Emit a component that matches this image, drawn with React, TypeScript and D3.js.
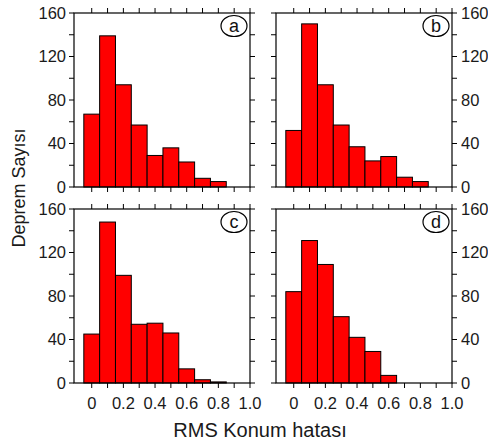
import React, { useRef, useEffect } from "react";
import * as d3 from "d3";

// bin centres of the RMS error histogram
const binCenters = [0, 0.1, 0.2, 0.3, 0.4, 0.5, 0.6, 0.7, 0.8, 0.9];
const countsA = [67, 139, 94, 57, 29, 36, 23, 8, 5, 0];
const countsB = [52, 150, 94, 57, 37, 24, 28, 9, 5, 0];
const countsC = [45, 148, 99, 54, 55, 46, 13, 3, 1, 0];
const countsD = [84, 131, 109, 61, 42, 29, 7, 0, 0, 0];
const panelLetters = ["a", "b", "c", "d"];
const xTickLabels = [0, 0.2, 0.4, 0.6, 0.8, 1.0];
const yTickLabels = [0, 40, 80, 120, 160];

const FONT = "Liberation Sans, Arial, sans-serif";

export default function App() {
  const ref = useRef<SVGSVGElement>(null);

  useEffect(() => {
    const svg = d3.select(ref.current);
    svg.selectAll("*").remove();

    const pw = 176;
    const ph = 174;
    const panels = [
      { values: countsA, left: 74, top: 13, side: "left", bottomLabels: false },
      { values: countsB, left: 276, top: 13, side: "right", bottomLabels: false },
      { values: countsC, left: 74, top: 209, side: "left", bottomLabels: true },
      { values: countsD, left: 276, top: 209, side: "right", bottomLabels: true },
    ];

    const x = d3.scaleLinear().domain([-0.112, 1.0]).range([0, pw]);
    const y = d3.scaleLinear().domain([0, 160]).range([ph, 0]);
    const minorX = d3.range(0, 1.0001, 0.1);
    const minorY = d3.range(0, 160.1, 20);

    panels.forEach((p, i) => {
      const g = svg.append("g").attr("transform", `translate(${p.left},${p.top})`);

      g.selectAll("rect.bar")
        .data(binCenters.map((c, j) => ({ c, v: p.values[j] })).filter((d) => d.v > 0))
        .enter()
        .append("rect")
        .attr("class", "bar")
        .attr("x", (d) => x(d.c - 0.05))
        .attr("width", x(0.1) - x(0))
        .attr("y", (d) => y(d.v))
        .attr("height", (d) => y(0) - y(d.v))
        .style("fill", "#ff0000")
        .style("stroke", "#000")
        .style("stroke-width", 1);

      g.append("rect")
        .attr("width", pw)
        .attr("height", ph)
        .style("fill", "none")
        .style("stroke", "#000")
        .style("stroke-width", 1.2);

      // ticks on top and bottom
      minorX.forEach((t) => {
        g.append("line").attr("x1", x(t)).attr("x2", x(t)).attr("y1", 0).attr("y2", -5)
          .style("stroke", "#000");
        g.append("line").attr("x1", x(t)).attr("x2", x(t)).attr("y1", ph).attr("y2", ph + 5)
          .style("stroke", "#000");
      });
      // ticks on left and right
      minorY.forEach((t) => {
        g.append("line").attr("x1", 0).attr("x2", -5).attr("y1", y(t)).attr("y2", y(t))
          .style("stroke", "#000");
        g.append("line").attr("x1", pw).attr("x2", pw + 5).attr("y1", y(t)).attr("y2", y(t))
          .style("stroke", "#000");
      });

      g.selectAll("text.ylab")
        .data(yTickLabels)
        .enter()
        .append("text")
        .attr("class", "ylab")
        .attr("x", p.side === "left" ? -8 : pw + 9)
        .attr("y", (d) => y(d))
        .attr("dy", "0.36em")
        .style("text-anchor", p.side === "left" ? "end" : "start")
        .style("font-family", FONT)
        .style("font-size", "16.5px")
        .style("fill", "#1a1a1a")
        .text((d) => d);

      if (p.bottomLabels) {
        g.selectAll("text.xlab")
          .data(xTickLabels)
          .enter()
          .append("text")
          .attr("class", "xlab")
          .attr("x", (d) => x(d))
          .attr("y", ph + 26)
          .style("text-anchor", "middle")
          .style("font-family", FONT)
          .style("font-size", "16.5px")
          .style("fill", "#1a1a1a")
          .text((d) => (d === 0 ? "0" : d3.format(".1f")(d)));
      }

      g.append("ellipse")
        .attr("cx", pw - 16)
        .attr("cy", 13)
        .attr("rx", 13)
        .attr("ry", 10.5)
        .style("fill", "#fff")
        .style("stroke", "#000")
        .style("stroke-width", 1.2);
      g.append("text")
        .attr("x", pw - 16)
        .attr("y", 13)
        .attr("dy", "0.35em")
        .style("text-anchor", "middle")
        .style("font-family", FONT)
        .style("font-size", "18px")
        .style("fill", "#111")
        .text(panelLetters[i]);
    });

    svg.append("text")
      .attr("transform", "translate(25,188) rotate(-90)")
      .style("text-anchor", "middle")
      .style("font-family", FONT)
      .style("font-size", "18px")
      .style("fill", "#1a1a1a")
      .text("Deprem Sayısı");

    svg.append("text")
      .attr("x", 260)
      .attr("y", 437)
      .style("text-anchor", "middle")
      .style("font-family", FONT)
      .style("font-size", "20px")
      .style("fill", "#1a1a1a")
      .text("RMS Konum hatası");
  }, []);

  return (
    <svg
      ref={ref}
      width={488}
      height={446}
      style={{ position: "absolute", left: 0, top: 0, background: "#fff" }}
    ></svg>
  );
}
